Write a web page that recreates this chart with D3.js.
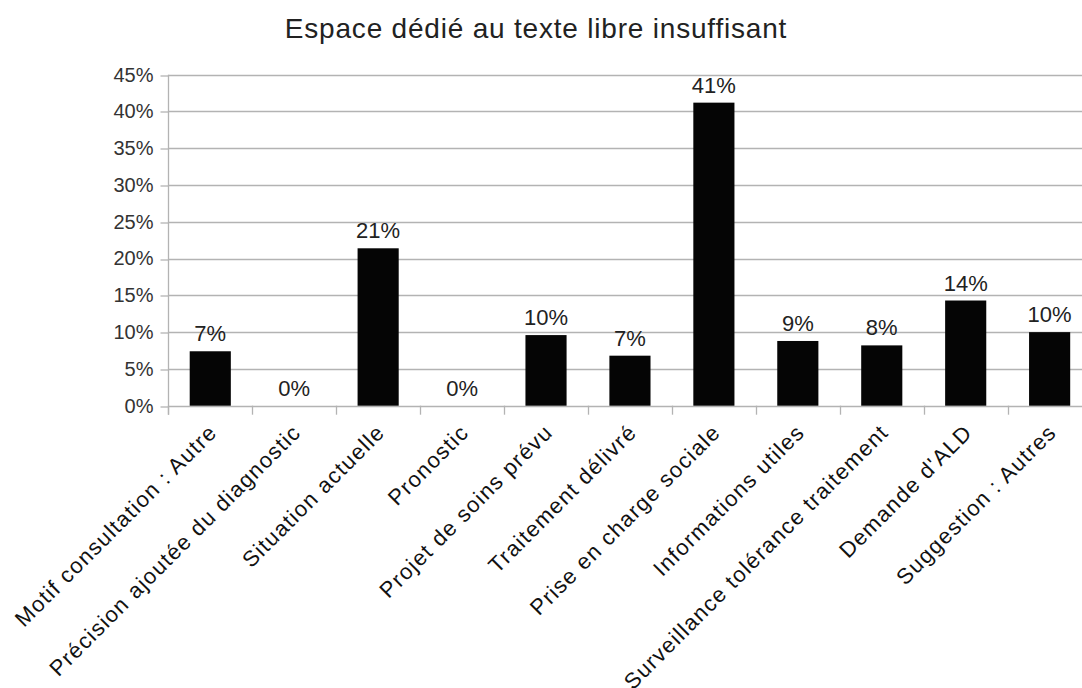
<!DOCTYPE html>
<html><head><meta charset="utf-8">
<script src="https://cdn.jsdelivr.net/npm/d3@7"></script>
<style>
html,body{margin:0;padding:0;background:#fff;}
svg{display:block;font-family:"Liberation Sans",Arial,sans-serif;}
</style></head>
<body>
<svg id="chart" width="1082" height="688"></svg>
<script>
const title = "Espace dédié au texte libre insuffisant";
const categories = ["Motif consultation : Autre","Précision ajoutée du diagnostic","Situation actuelle","Pronostic","Projet de soins prévu","Traitement délivré","Prise en charge sociale","Informations utiles","Surveillance tolérance traitement","Demande d'ALD","Suggestion : Autres"];
const values = [7.4, 0, 21.4, 0, 9.6, 6.8, 41.2, 8.8, 8.2, 14.3, 10.0];
const yTicks = [0,5,10,15,20,25,30,35,40,45];

const svg = d3.select("#chart");
const m = {left:168.3, right:1091.6, top:74.7, bottom:405.7};
const x = d3.scaleBand().domain(categories).range([m.left, m.right]).padding(0);
const y = d3.scaleLinear().domain([0,45]).range([m.bottom, m.top]);

// gridlines
svg.append("g").selectAll("line").data(yTicks).join("line")
  .attr("x1", m.left).attr("x2", m.right)
  .attr("y1", d=>Math.round(y(d))+0.5).attr("y2", d=>Math.round(y(d))+0.5)
  .attr("stroke","#b3b3b3").attr("stroke-width",1.3);

// y axis
const yAxis = d3.axisLeft(y).tickValues(yTicks).tickSize(8).tickPadding(7).tickFormat(d=>d+"%");
const gy = svg.append("g").attr("transform",`translate(${Math.round(m.left)+0.5},0)`).call(yAxis);
gy.select(".domain").remove();
gy.selectAll(".tick line").attr("stroke","#b3b3b3").attr("stroke-width",1.3)
  .attr("transform", d=>`translate(0,${Math.round(y(d))+0.5-y(d)})`);
gy.selectAll(".tick text").attr("fill","#333").style("font-size","20px").attr("font-family","Liberation Sans, Arial, sans-serif");
svg.append("line").attr("x1",Math.round(m.left)+0.5).attr("x2",Math.round(m.left)+0.5)
  .attr("y1",m.top).attr("y2",m.bottom+9).attr("stroke","#b3b3b3").attr("stroke-width",1.3);

// x axis ticks at band boundaries
const bounds = categories.map(c=>x(c)).concat([m.right]);
svg.append("g").selectAll("line").data(bounds).join("line")
  .attr("x1",d=>Math.round(d)+0.5).attr("x2",d=>Math.round(d)+0.5)
  .attr("y1",m.bottom).attr("y2",m.bottom+9)
  .attr("stroke","#b3b3b3").attr("stroke-width",1.3);

// bars
const bw = x.bandwidth()*0.49;
svg.append("g").selectAll("rect").data(values).join("rect")
  .attr("x",(d,i)=>x(categories[i])+x.bandwidth()/2-bw/2)
  .attr("width",bw)
  .attr("y",d=>y(d)).attr("height",d=>y(0)-y(d))
  .attr("fill","#050505");

// value labels
svg.append("g").selectAll("text").data(values).join("text")
  .attr("x",(d,i)=>x(categories[i])+x.bandwidth()/2)
  .attr("y",d=>y(d)-10)
  .attr("text-anchor","middle")
  .style("font-size","22px").attr("fill","#222")
  .text(d=>Math.round(d)+"%");

// category labels
svg.append("g").selectAll("text").data(categories).join("text")
  .attr("transform",c=>`translate(${x(c)+x.bandwidth()/2-3},${m.bottom+17}) rotate(-45)`)
  .attr("text-anchor","end")
  .attr("dy","0.71em")
  .style("font-size","22px").style("letter-spacing","1.3px").attr("fill","#111")
  .text(c=>c);

// title
svg.append("text").attr("x",536).attr("y",38.3).attr("text-anchor","middle")
  .style("font-size","28px").style("letter-spacing","0.8px").attr("fill","#222").text(title);
</script>
</body></html>
